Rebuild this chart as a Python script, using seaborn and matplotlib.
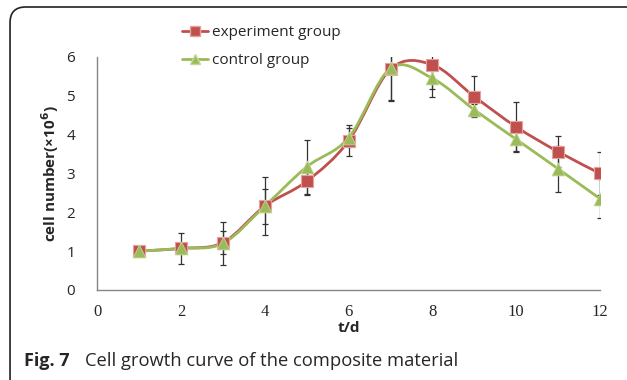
import numpy as np
import seaborn as sns
import matplotlib.pyplot as plt
from matplotlib.path import Path
from matplotlib.patches import PathPatch, FancyBboxPatch
from matplotlib.lines import Line2D

# data
days = [1, 2, 3, 4, 5, 6, 7, 8, 9, 10, 11, 12]
exp_mean = [1.0, 1.07, 1.22, 2.16, 2.8, 3.84, 5.69, 5.8, 4.98, 4.2, 3.56, 3.0]
exp_err = [0.0, 0.4, 0.3, 0.45, 0.36, 0.4, 0.8, 0.63, 0.52, 0.64, 0.4, 0.56]
ctl_mean = [1.0, 1.07, 1.2, 2.16, 3.17, 3.92, 5.71, 5.45, 4.64, 3.88, 3.12, 2.35]
ctl_err = [0.0, 0.0, 0.55, 0.75, 0.7, 0.25, 0.85, 0.47, 0.15, 0.3, 0.6, 0.5]

red = '#C0504D'
green = '#9BBB59'
grey = '#868686'

sns.set_style('white')
plt.rcParams['font.family'] = ['Open Sans', 'DejaVu Sans']

fig = plt.figure(figsize=(6.27, 3.8), dpi=100)
ax = fig.add_axes([0.155, 0.237, 0.802, 0.613])

# rounded frame around the whole figure (right and bottom edges run off the image)
frame = FancyBboxPatch((0.016, -0.1), 1.1, 1.0816, boxstyle='round,pad=0,rounding_size=0.025',
                       transform=fig.transFigure, fill=False, edgecolor='#222222', lw=1.2,
                       mutation_aspect=6.27 / 3.8, clip_on=False)
fig.patches.append(frame)


def smooth_path(x, y):
    # excel-style smoothed line as cubic bezier segments
    px = [x[0]] + list(x) + [x[-1]]
    py = [y[0]] + list(y) + [y[-1]]
    verts = [(x[0], y[0])]
    codes = [Path.MOVETO]
    for i in range(1, len(px) - 2):
        c1 = (px[i] + (px[i + 1] - px[i - 1]) / 6, py[i] + (py[i + 1] - py[i - 1]) / 6)
        c2 = (px[i + 1] - (px[i + 2] - px[i]) / 6, py[i + 1] - (py[i + 2] - py[i]) / 6)
        verts += [c1, c2, (px[i + 1], py[i + 1])]
        codes += [Path.CURVE4] * 3
    return Path(verts, codes)


ax.add_patch(PathPatch(smooth_path(days, exp_mean), fill=False, edgecolor=red, lw=2.0, zorder=2))
ax.add_patch(PathPatch(smooth_path(days, ctl_mean), fill=False, edgecolor=green, lw=2.0, zorder=3))

ax.errorbar(days, exp_mean, yerr=exp_err, fmt='none', ecolor='#333333', elinewidth=0.9, capsize=2.5, capthick=0.9, zorder=1)
ax.errorbar(days, ctl_mean, yerr=ctl_err, fmt='none', ecolor='#333333', elinewidth=0.9, capsize=2.5, capthick=0.9, zorder=1)

sns.scatterplot(x=days, y=exp_mean, marker='s', s=75, color=red, edgecolor='#E8A09E', linewidth=0.8, ax=ax, zorder=4)
sns.scatterplot(x=days, y=ctl_mean, marker='^', s=85, color=green, edgecolor='#C4D79B', linewidth=0.6, ax=ax, zorder=5)

ax.set_xlim(0, 12)
ax.set_ylim(0, 6)
ax.set_xticks(range(0, 13, 2))
ax.set_yticks(range(0, 7))
ax.set_xticklabels([str(v) for v in range(0, 13, 2)], family='Liberation Serif', fontsize=12)
ax.set_yticklabels([str(v) for v in range(0, 7)], fontsize=11)
ax.tick_params(axis='both', direction='out', length=4, width=0.8, color=grey)
ax.tick_params(axis='x', pad=6)
ax.tick_params(axis='y', pad=12)

for s in ['top', 'right']:
    ax.spines[s].set_visible(False)
for s in ['left', 'bottom']:
    ax.spines[s].set_color(grey)
    ax.spines[s].set_linewidth(1.0)

ax.set_xlabel('t/d', fontsize=11, fontweight='bold', labelpad=1)
ax.set_ylabel('cell number(×10$^{\\mathbf{6}}$)', fontsize=11, fontweight='bold', labelpad=4)

handles = [
    Line2D([], [], color=red, lw=2.0, marker='s', markersize=7, markeredgecolor='#E8A09E'),
    Line2D([], [], color=green, lw=2.0, marker='^', markersize=7, markeredgecolor='#C4D79B'),
]
ax.legend(handles, ['experiment group', 'control group'], loc='upper left', bbox_to_anchor=(0.141, 1.195),
          frameon=False, fontsize=11, handlelength=1.7, handletextpad=0.25, labelspacing=0.85)

fig.text(0.038, 0.05, 'Fig. 7', fontsize=13, fontweight='bold', va='center')
fig.text(0.136, 0.05, 'Cell growth curve of the composite material', fontsize=13.2, va='center')

fig.savefig('out.png', dpi=100)
